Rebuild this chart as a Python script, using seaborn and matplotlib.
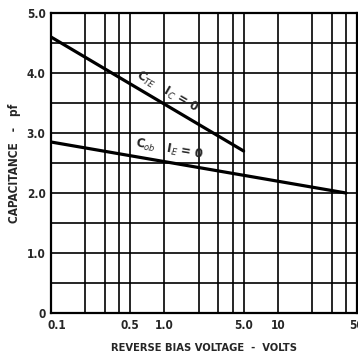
import matplotlib
matplotlib.use("Agg")
import matplotlib.pyplot as plt
import matplotlib.transforms as mtransforms
import numpy as np
import pandas as pd
import seaborn as sns

# Capacitance curves (pf) versus reverse bias voltage (volts)
voltage_cte = [0.1, 5.0]
cap_cte = [4.6, 2.7]
voltage_cob = [0.1, 40.0]
cap_cob = [2.85, 2.0]

x_major = [0.1, 0.5, 1.0, 5.0, 10, 50]
x_major_labels = ["0.1", "0.5", "1.0", "5.0", "10", "50"]
x_minor = [0.2, 0.3, 0.4, 2, 3, 4, 20, 30, 40]
y_major = [0, 1, 2, 3, 4, 5]
y_major_labels = ["0", "1.0", "2.0", "3.0", "4.0", "5.0"]
y_minor = [0.5, 1.5, 2.5, 3.5, 4.5]

sns.set_style("white")
plt.rcParams["font.family"] = ["DejaVu Sans"]

fig = plt.figure(figsize=(3.58, 3.56), dpi=100)
ax = fig.add_axes([51 / 358, 1 - 313 / 356, (357 - 51) / 358, (313 - 13) / 356])

df = pd.concat([
    pd.DataFrame({"volts": voltage_cte, "pf": cap_cte, "curve": "cte"}),
    pd.DataFrame({"volts": voltage_cob, "pf": cap_cob, "curve": "cob"}),
])
sns.lineplot(data=df, x="volts", y="pf", hue="curve",
             palette={"cte": "black", "cob": "black"}, lw=2.3,
             legend=False, ax=ax, zorder=5)

ax.set_xscale("log")
ax.set_xlim(0.1, 50)
ax.set_ylim(0, 5.0)

ax.set_xticks(x_major)
ax.set_xticklabels(x_major_labels)
ax.set_xticks(x_minor, minor=True)
ax.set_xticklabels([], minor=True)
ax.set_yticks(y_major)
ax.set_yticklabels(y_major_labels)
ax.set_yticks(y_minor, minor=True)

ax.grid(True, which="both", color="black", lw=1.2)
ax.set_axisbelow(True)
for s in ax.spines.values():
    s.set_color("black")
    s.set_linewidth(1.6)

ax.tick_params(axis="both", which="major", length=2, width=1, color="black",
               pad=2, labelsize=8.5)
ax.tick_params(axis="both", which="minor", length=0)
for lab in ax.get_xticklabels() + ax.get_yticklabels():
    lab.set_fontweight("bold")
    lab.set_fontstretch("condensed")

# nudge the first x label so it clears the y-axis "0"
first = ax.get_xticklabels()[0]
first.set_transform(first.get_transform() +
                    mtransforms.ScaledTranslation(6 / 100, 0, fig.dpi_scale_trans))

ax.set_xlabel("REVERSE BIAS VOLTAGE  -  VOLTS", fontsize=8, fontweight="bold",
              fontstretch="condensed", labelpad=8)
ax.set_ylabel("CAPACITANCE   -   pf", fontsize=8.5, fontweight="bold",
              fontstretch="condensed", labelpad=4)

ax.text(0.55, 3.93, r"C$_{TE}$   I$_C$ = 0", rotation=-30, rotation_mode="anchor",
        ha="left", va="baseline", fontsize=8.5, fontweight="bold", zorder=6)
ax.text(0.55, 2.77, r"C$_{ob}$   I$_E$ = 0", rotation=-10, rotation_mode="anchor",
        ha="left", va="baseline", fontsize=8.5, fontweight="bold", zorder=6)

fig.savefig("out.png", dpi=100)
